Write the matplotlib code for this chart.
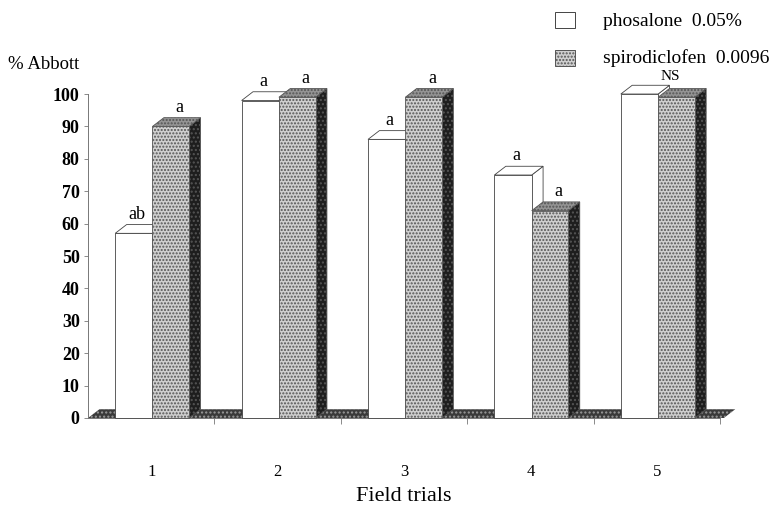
import matplotlib.pyplot as plt
from matplotlib.patches import Polygon, Rectangle

# Abbott efficacy per field trial
trials = ['1', '2', '3', '4', '5']
phosalone = [57, 98, 86, 75, 100]
spirodiclofen = [90, 99, 99, 64, 99]
phos_letters = ['ab', 'a', 'a', 'a', '']
spiro_letters = ['a', 'a', 'a', 'a', '']
group_note = ['', '', '', '', 'NS']
legend_labels = ['phosalone  0.05%', 'spirodiclofen  0.0096']

plt.rcParams['font.family'] = ['Liberation Serif', 'DejaVu Serif']
plt.rcParams['hatch.linewidth'] = 1.0

fig = plt.figure(figsize=(7.77, 5.11), dpi=100)
ax = fig.add_axes([0.1133, 0.182, 0.8134, 0.634])
ax.set_xlim(0.5, 5.5)
ax.set_ylim(0, 100)

# depth offset of the fake 3D boxes (data units)
dx = 0.09
dy = 2.7
w = 0.285

# floor strip
floor = Polygon([(0.5, 0), (5.53, 0), (5.53 + dx, dy), (0.5 + dx, dy)],
                closed=True, facecolor='#3a3a3a', edgecolor='#9a9a9a',
                hatch='....', lw=0, zorder=1, clip_on=False)
ax.add_patch(floor)


def box(x0, x1, h, front, top, side, hf, ht, hs, ec):
    pts_side = [(x1, 0), (x1 + dx, dy), (x1 + dx, h + dy), (x1, h)]
    pts_top = [(x0, h), (x0 + dx, h + dy), (x1 + dx, h + dy), (x1, h)]
    ax.add_patch(Polygon(pts_side, closed=True, facecolor=side, edgecolor=ec,
                         hatch=hs, lw=0.6, zorder=3, clip_on=False))
    ax.add_patch(Polygon(pts_top, closed=True, facecolor=top, edgecolor=ec,
                         hatch=ht, lw=0.6, zorder=3, clip_on=False))
    ax.add_patch(Rectangle((x0, 0), x1 - x0, h, facecolor=front, edgecolor=ec,
                           hatch=hf, lw=0.6, zorder=3, clip_on=False))


for i in range(len(trials)):
    c = i + 1
    box(c - w, c + 0.01, phosalone[i], 'white', 'white', 'white',
        None, None, None, '#444444')
    box(c + 0.01, c + 0.01 + w + 0.005, spirodiclofen[i], '#cfcfcf', '#949494',
        '#1e1e1e', '.....', '.....', '....', '#555555')
    if phos_letters[i]:
        ax.text(c - w / 2 + 0.03, phosalone[i] + dy + 0.6, phos_letters[i],
                ha='center', va='bottom', fontsize=13, zorder=5)
    if spiro_letters[i]:
        ax.text(c + w / 2 + 0.08, spirodiclofen[i] + dy + 0.6, spiro_letters[i],
                ha='center', va='bottom', fontsize=13, zorder=5)
    if group_note[i]:
        ax.text(c + 0.11, max(phosalone[i], spirodiclofen[i]) + dy + 0.6,
                group_note[i], ha='center', va='bottom', fontsize=11, zorder=5)

for s in ['top', 'right']:
    ax.spines[s].set_visible(False)
ax.spines['left'].set_color('#777777')
ax.spines['bottom'].set_color('#777777')
ax.spines['left'].set_linewidth(0.7)
ax.spines['bottom'].set_linewidth(0.7)
ax.set_facecolor('none')

ax.set_yticks(range(0, 101, 10))
ax.set_yticklabels([str(v) for v in range(0, 101, 10)], fontsize=13,
                   fontweight='bold')
ax.tick_params(axis='y', length=3, width=0.6, color='#777777', pad=3)

ax.set_xticks(range(1, 6))
ax.set_xticklabels(trials, fontsize=12)
ax.set_xticks([1.5, 2.5, 3.5, 4.5, 5.5], minor=True)
ax.tick_params(axis='x', which='major', length=0, pad=33)
ax.tick_params(axis='x', which='minor', length=4, width=0.6, color='#777777')

ax.set_xlabel('Field trials', fontsize=16, labelpad=5)

fig.text(0.010, 0.874, '% Abbott', fontsize=13.5, va='center')

# legend
fig.add_artist(Rectangle((0.714, 0.945), 0.026, 0.031, transform=fig.transFigure,
                         facecolor='white', edgecolor='#444444', lw=0.7))
fig.add_artist(Rectangle((0.714, 0.871), 0.026, 0.031, transform=fig.transFigure,
                         facecolor='#cfcfcf', edgecolor='#555555', hatch='.....',
                         lw=0.7))
fig.text(0.776, 0.958, legend_labels[0], fontsize=14, va='center')
fig.text(0.776, 0.886, legend_labels[1], fontsize=14, va='center')

fig.savefig('out.png', dpi=100)
